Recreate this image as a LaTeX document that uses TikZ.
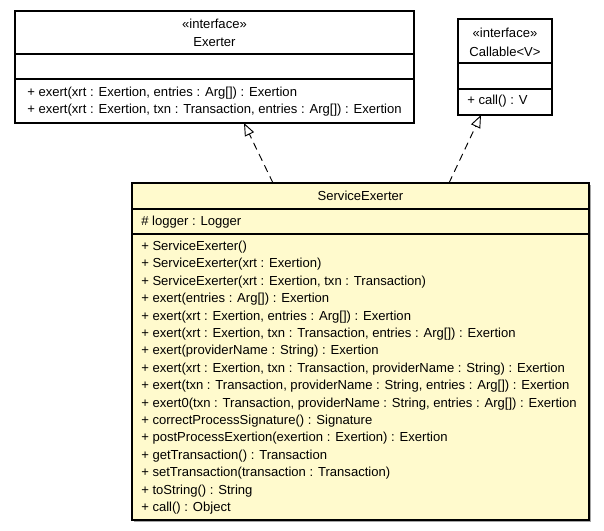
\documentclass[tikz,border=0pt]{standalone}
\usepackage{fontspec}
\setmainfont{Liberation Sans}
\usetikzlibrary{fit,arrows.meta}
\definecolor{classfill}{HTML}{FFFACD}
\tikzset{
  umlbox/.style={draw=black, line width=0.8pt, inner sep=0pt},
  txt/.style={inner sep=0pt, font=\fontsize{9.8pt}{12pt}\selectfont, text=black},
  ltxt/.style={txt, anchor=mid west},
  ctxt/.style={txt, anchor=mid},
  sep/.style={draw=black, line width=0.8pt},
  realize/.style={draw=black, line width=0.7pt, dash pattern=on 5.5pt off 3.8pt,
    -{Triangle[open, length=9.5pt, width=7.5pt, fill=white]}},
}
\begin{document}
\begin{tikzpicture}[x=0.75pt, y=-0.75pt]
\useasboundingbox (0,0) rectangle (604,531);
% Exerter
\node[umlbox, fill=white, fit={(15,11) (414,123)}] (exerter) {};
\draw[sep] (15,54) -- (414,54);
\draw[sep] (15,79) -- (414,79);
\node[ctxt] (exst) at (214.5,25) {«interface»};
\node[ctxt] (exname) at (214.5,43) {Exerter};
\node[ltxt] (exm1) at (27,93) {+ exert(xrt : Exertion, entries : Arg[]) : Exertion};
\node[ltxt] (exm2) at (27,110) {+ exert(xrt : Exertion, txn : Transaction, entries : Arg[]) : Exertion};
% Callable
\node[umlbox, fill=white, fit={(458,19) (552,115)}] (callable) {};
\draw[sep] (458,63) -- (552,63);
\draw[sep] (458,89) -- (552,89);
\node[ctxt] (cast) at (505,34) {«interface»};
\node[ctxt] (caname) at (505,53) {Callable<V>};
\node[ltxt] (cam1) at (467,101) {+ call() : V};
% ServiceExerter
\fill[gray!70] (134,185) rectangle (591,522);
\node[umlbox, fill=classfill, fit={(132,183) (589,520)}] (service) {};
\draw[sep] (132,209) -- (589,209);
\draw[sep] (132,234) -- (589,234);
\node[ctxt] (sename) at (360.5,197) {ServiceExerter};
\node[ltxt] (seattr) at (141,222) {\# logger : Logger};
\foreach \t [count=\i from 0] in {
  {+ ServiceExerter()},
  {+ ServiceExerter(xrt : Exertion)},
  {+ ServiceExerter(xrt : Exertion, txn : Transaction)},
  {+ exert(entries : Arg[]) : Exertion},
  {+ exert(xrt : Exertion, entries : Arg[]) : Exertion},
  {+ exert(xrt : Exertion, txn : Transaction, entries : Arg[]) : Exertion},
  {+ exert(providerName : String) : Exertion},
  {+ exert(xrt : Exertion, txn : Transaction, providerName : String) : Exertion},
  {+ exert(txn : Transaction, providerName : String, entries : Arg[]) : Exertion},
  {+ exert0(txn : Transaction, providerName : String, entries : Arg[]) : Exertion},
  {+ correctProcessSignature() : Signature},
  {+ postProcessExertion(exertion : Exertion) : Exertion},
  {+ getTransaction() : Transaction},
  {+ setTransaction(transaction : Transaction)},
  {+ toString() : String},
  {+ call() : Object}}
  \node[ltxt] (sem\i) at (141,{247+17.4*\i}) {\t};
% connectors
\coordinate (s1) at (273,183);
\coordinate (t1) at (244,123);
\coordinate (s2) at (449,183);
\coordinate (t2) at (481,115);
\draw[realize] (s1) -- (t1);
\draw[realize] (s2) -- (t2);
\end{tikzpicture}
\end{document}
